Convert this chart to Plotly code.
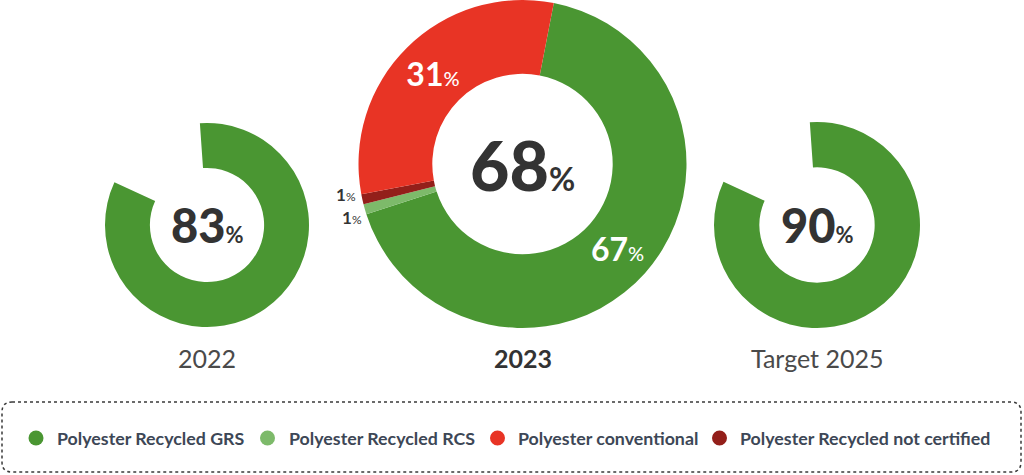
import plotly.graph_objects as go

W, H = 1024, 475

# ---- data ----
years = ["2022", "2023", "Target 2025"]
center_labels = [83, 68, 90]           # big numbers in the hole
ring_2022 = [83, 17]                    # arc drawn, remainder empty
ring_2025 = [83, 17]                    # arc as drawn in the picture
cats_2023 = ["Polyester Recycled GRS", "Polyester Recycled RCS",
             "Polyester conventional", "Polyester Recycled not certified"]
vals_2023 = [67, 1, 31, 1]
legend_labels = ["Polyester Recycled GRS", "Polyester Recycled RCS",
                 "Polyester conventional", "Polyester Recycled not certified"]

# ---- styles ----
GREEN = "#4A9632"
LGREEN = "#7DBA6A"
RED = "#E83425"
DRED = "#931F1A"
cat_colors = {"Polyester Recycled GRS": GREEN, "Polyester Recycled RCS": LGREEN,
              "Polyester conventional": RED, "Polyester Recycled not certified": DRED}
DARK = "#333333"
LEG_TXT = "#3D4756"
HEAVY = "Lato Black, Lato, sans-serif"


def px_dom(cx, cy, r):
    return dict(x=[(cx - r) / W, (cx + r) / W], y=[1 - (cy + r) / H, 1 - (cy - r) / H])


doms = [px_dom(207, 225, 102), px_dom(522.5, 164, 164), px_dom(817, 225, 103)]

fig = go.Figure()

# order the 2023 slices clockwise: GRS, RCS, not certified, conventional
order_2023 = [0, 1, 3, 2]
fig.add_trace(go.Pie(
    values=ring_2022, labels=["a", "b"], sort=False, direction="clockwise",
    rotation=-4, hole=0.56, domain=doms[0], textinfo="none", hoverinfo="skip",
    marker=dict(colors=[GREEN, "rgba(0,0,0,0)"], line=dict(width=0)),
    showlegend=False))

fig.add_trace(go.Pie(
    values=[vals_2023[i] for i in order_2023],
    labels=[cats_2023[i] for i in order_2023],
    sort=False, direction="clockwise", rotation=11, hole=0.55, domain=doms[1],
    marker=dict(colors=[cat_colors[cats_2023[i]] for i in order_2023], line=dict(width=0)),
    texttemplate=["%{value}<span style='font-size:20px;font-weight:500'>%</span>", "", "",
                  "%{value}<span style='font-size:20px;font-weight:500'>%</span>"],
    textposition="inside", insidetextorientation="horizontal",
    textfont=dict(family="Lato", size=32, color="white", weight=700),
    hoverinfo="skip", showlegend=False))

fig.add_trace(go.Pie(
    values=ring_2025, labels=["a", "b"], sort=False, direction="clockwise",
    rotation=-4, hole=0.56, domain=doms[2], textinfo="none", hoverinfo="skip",
    marker=dict(colors=[GREEN, "rgba(0,0,0,0)"], line=dict(width=0)),
    showlegend=False))

annotations = []
# centre numbers
big = [(47, 22), (68, 32), (47, 22)]
for d, v, (fs, ps) in zip(doms, center_labels, big):
    cx = sum(d["x"]) / 2
    cy = sum(d["y"]) / 2
    annotations.append(dict(
        x=cx, y=cy, xref="paper", yref="paper", showarrow=False,
        text=f"{v}<span style='font-size:{ps}px;font-weight:700;font-family:Lato'>%</span>",
        font=dict(family=HEAVY, size=fs, color=DARK, weight=900),
        xanchor="center", yanchor="middle"))

# year labels
for d, yname in zip(doms, years):
    cx = sum(d["x"]) / 2
    bold = yname == "2023"
    annotations.append(dict(
        x=cx, y=1 - 358 / H, xref="paper", yref="paper", showarrow=False,
        text=yname,
        font=dict(family="Lato", size=25, color="#333333" if bold else "#4a4a4a",
                  weight=700 if bold else 400),
        xanchor="center", yanchor="middle"))

# small 1% labels (RCS lower, not certified upper)
small_pos = {"Polyester Recycled not certified": (346, 194), "Polyester Recycled RCS": (352, 217)}
for cat, (x, y) in small_pos.items():
    v = vals_2023[cats_2023.index(cat)]
    annotations.append(dict(
        x=x / W, y=1 - y / H, xref="paper", yref="paper", showarrow=False,
        text=f"<b>{v}</b><span style='font-size:12px'>%</span>",
        font=dict(family="Lato", size=17, color=DARK),
        xanchor="center", yanchor="middle"))

# legend (dotted rounded box + circles + labels)
x0, x1, y0, y1, rr = 2, 1021, 402, 472, 10
pts = [("M", x0 + rr, y0), ("L", x1 - rr, y0), ("Q", x1, y0), ("", x1, y0 + rr),
       ("L", x1, y1 - rr), ("Q", x1, y1), ("", x1 - rr, y1), ("L", x0 + rr, y1),
       ("Q", x0, y1), ("", x0, y1 - rr), ("L", x0, y0 + rr), ("Q", x0, y0), ("", x0 + rr, y0)]
path = " ".join(f"{c} {px / W},{1 - py / H}".strip() for c, px, py in pts) + " Z"
fig.add_shape(type="path", xref="paper", yref="paper", path=path,
              line=dict(color="#3a3a3a", width=1.5, dash="dot"), fillcolor="rgba(0,0,0,0)")

circle_x = [36, 267.5, 497.5, 719.5]
text_x = [55, 287, 516, 738]
ly = 438
for lab, cxp, tx in zip(legend_labels, circle_x, text_x):
    rad = 7.5
    fig.add_shape(type="circle", xref="paper", yref="paper",
                  x0=(cxp - rad) / W, x1=(cxp + rad) / W,
                  y0=1 - (ly + rad) / H, y1=1 - (ly - rad) / H,
                  fillcolor=cat_colors[lab], line=dict(width=0))
    annotations.append(dict(
        x=tx / W, y=1 - ly / H, xref="paper", yref="paper", showarrow=False,
        text=lab, font=dict(family="Lato", size=17.8, color=LEG_TXT, weight=700),
        xanchor="left", yanchor="middle"))

fig.update_layout(
    width=W, height=H, margin=dict(l=0, r=0, t=0, b=0),
    paper_bgcolor="white", plot_bgcolor="white",
    annotations=annotations, showlegend=False)

fig.write_html("out.html", config={"displayModeBar": False},
               post_script="document.body.style.margin='0px';")
